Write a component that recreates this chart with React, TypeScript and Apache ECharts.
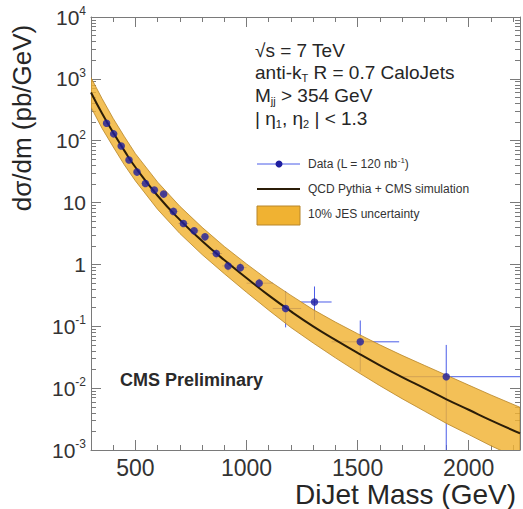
import React, { useEffect, useRef } from 'react';
import * as echarts from 'echarts';

// ---- axis ticks ----
const xMajorTicks = [500, 1000, 1500, 2000];
const xMinorTicks = [300, 400, 500, 600, 700, 800, 900, 1000, 1100, 1200, 1300, 1400, 1500, 1600, 1700, 1800, 1900, 2000, 2100, 2200];
const yMajorTicks = [1e-3, 1e-2, 1e-1, 1, 10, 100, 1000, 10000];

// ---- data points (CMS, L = 120 nb^-1) ----
const dataMass = [370, 402, 436, 471, 507, 545, 585, 627, 671, 716, 764, 813, 864, 917, 972, 1057, 1176, 1306, 1512, 1899];
const dataXsec = [191, 129, 82, 48.7, 31.1, 20.4, 15.9, 13.7, 7.2, 4.6, 3.49, 2.79, 1.5, 0.946, 0.887, 0.498, 0.194, 0.247, 0.0561, 0.0153];
const dataErrLow = [183, 123, 78, 46, 29.3, 19.1, 14.8, 12.6, 6.5, 4.1, 3.05, 2.4, 1.25, 0.77, 0.71, 0.41, 0.096, 0.127, 0.0185, 0.0001];
const dataErrHigh = [199, 135, 86, 51.4, 33, 21.7, 17, 14.8, 7.9, 5.1, 3.95, 3.2, 1.78, 1.14, 1.08, 0.59, 0.37, 0.44, 0.124, 0.05];
const binLow = [354, 386, 419, 453, 489, 526, 565, 606, 649, 693, 740, 788, 838, 890, 944, 1000, 1118, 1246, 1383, 1687];
const binHigh = [386, 419, 453, 489, 526, 565, 606, 649, 693, 740, 788, 838, 890, 944, 1000, 1118, 1246, 1383, 1687, 2231];

// ---- QCD prediction and 10% JES band ----
const theoryMass = [300, 350, 400, 450, 500, 600, 700, 800, 900, 1000, 1100, 1200, 1300, 1400, 1500, 1600, 1700, 1800, 1900, 2000, 2100, 2231];
const theoryXsec = [603, 275, 135, 69.2, 37.2, 12.9, 5.25, 2.4, 1.175, 0.603, 0.316, 0.174, 0.1, 0.0603, 0.0372, 0.0234, 0.0151, 0.01, 0.0066, 0.00447, 0.00302, 0.00186];
const bandHigh = [1047, 479, 229, 117, 61.7, 21.4, 8.71, 3.98, 1.95, 1.02, 0.55, 0.316, 0.186, 0.117, 0.0759, 0.0501, 0.0339, 0.0234, 0.0162, 0.0112, 0.00776, 0.0049];
const bandLow = [347, 158, 79.4, 40.7, 22.4, 7.76, 3.16, 1.445, 0.708, 0.355, 0.182, 0.0955, 0.0537, 0.0309, 0.0182, 0.01096, 0.00676, 0.00427, 0.00269, 0.00178, 0.00117, 0.00071];

const FONT = '"Liberation Sans", Arial, Helvetica, sans-serif';
const BAND = '#F0B232';
const BAND_EDGE = '#B8862A';
const AXIS = '#7a7a7a';
const TXT = '#262626';

const yMinorTicks: number[] = [];
for (let k = -3; k <= 3; k++) for (let d = 2; d <= 9; d++) yMinorTicks.push(d * Math.pow(10, k));

const X_MIN = 300;
const X_MAX = 2231;

function xAxisDef(position: string, major: boolean, labels: boolean) {
  return {
    type: 'value', position, min: X_MIN, max: X_MAX, gridIndex: 0,
    axisLine: { show: major, onZero: false, lineStyle: { color: AXIS, width: 1 } },
    axisTick: { show: true, inside: true, length: major ? 10 : 5, customValues: major ? xMajorTicks : xMinorTicks, lineStyle: { color: AXIS } },
    axisLabel: labels
      ? { show: true, customValues: xMajorTicks, fontSize: 23, color: '#333', fontFamily: FONT, margin: 6, formatter: (v: number) => String(v) }
      : { show: false },
    splitLine: { show: false },
  };
}

function yAxisDef(position: string, major: boolean, labels: boolean) {
  return {
    type: 'log', logBase: 10, position, min: 1e-3, max: 1e4, gridIndex: 0,
    axisLine: { show: major, onZero: false, lineStyle: { color: AXIS, width: 1 } },
    axisTick: { show: true, inside: true, length: major ? 10 : 5, customValues: major ? yMajorTicks : yMinorTicks, lineStyle: { color: AXIS } },
    axisLabel: labels
      ? {
          show: true, customValues: yMajorTicks, margin: 5, color: '#333', fontFamily: FONT, fontSize: 21,
          formatter: (v: number) => {
            const e = Math.round(Math.log10(v));
            if (e === 0) return '1';
            if (e === 1) return '10';
            return `{b|10}{s|${e}}`;
          },
          rich: {
            b: { fontSize: 21, fontFamily: FONT, color: '#333' },
            s: { fontSize: 12, fontFamily: FONT, color: '#333', padding: [0, 0, 12, 0] },
          },
        }
      : { show: false },
    splitLine: { show: false },
  };
}

export default function App() {
  const ref = useRef<HTMLDivElement>(null);
  useEffect(() => {
    const chart = echarts.init(ref.current!, null, { renderer: 'svg' });
    const option: any = {
      animation: false,
      backgroundColor: '#ffffff',
      grid: { left: 91, top: 17, right: 3, bottom: 59, containLabel: false },
      xAxis: [
        xAxisDef('bottom', true, true),
        xAxisDef('bottom', false, false),
        xAxisDef('top', true, false),
        xAxisDef('top', false, false),
      ],
      yAxis: [
        yAxisDef('left', true, true),
        yAxisDef('left', false, false),
        yAxisDef('right', true, false),
        yAxisDef('right', false, false),
      ],
      series: [
        {
          name: 'Data error bars',
          type: 'custom',
          xAxisIndex: 0, yAxisIndex: 0,
          clip: true,
          z: 2,
          data: dataMass.map((m, i) => [m, dataErrLow[i], dataErrHigh[i], binLow[i], binHigh[i], dataXsec[i]]),
          encode: { x: 0, y: [1, 2] },
          renderItem: (params: any, api: any) => {
            const x = api.value(0);
            const top = api.coord([x, api.value(2)]);
            const bot = api.coord([x, api.value(1)]);
            const l = api.coord([api.value(3), api.value(5)]);
            const r = api.coord([api.value(4), api.value(5)]);
            const style = { stroke: '#4a5ce8', lineWidth: 1 };
            return {
              type: 'group',
              children: [
                { type: 'line', shape: { x1: top[0], y1: top[1], x2: bot[0], y2: bot[1] }, style },
                { type: 'line', shape: { x1: l[0], y1: l[1], x2: r[0], y2: r[1] }, style },
              ],
            };
          },
        },
        {
          name: '10% JES uncertainty',
          type: 'custom',
          xAxisIndex: 0, yAxisIndex: 0,
          clip: true,
          z: 3,
          data: theoryMass.map((m, i) => [m, theoryXsec[i]]),
          renderItem: (params: any, api: any) => {
            if (params.dataIndex !== 0) return null;
            const upper = theoryMass.map((m, i) => api.coord([m, bandHigh[i]]));
            const lower = theoryMass.map((m, i) => api.coord([m, bandLow[i]])).reverse();
            return {
              type: 'polygon',
              shape: { points: upper.concat(lower) },
              style: { fill: BAND, stroke: BAND_EDGE, lineWidth: 1, opacity: 0.82 },
            };
          },
        },
        {
          name: 'QCD Pythia + CMS simulation',
          type: 'line',
          xAxisIndex: 0, yAxisIndex: 0,
          z: 4,
          smooth: true,
          symbol: 'none',
          data: theoryMass.map((m, i) => [m, theoryXsec[i]]),
          lineStyle: { color: '#2b1d08', width: 2 },
        },
        {
          name: 'Data',
          type: 'scatter',
          xAxisIndex: 0, yAxisIndex: 0,
          z: 5,
          symbol: 'circle',
          symbolSize: 7.5,
          data: dataMass.map((m, i) => [m, dataXsec[i]]),
          itemStyle: { color: '#1e1ea0' },
        },
      ],
      graphic: [
        { type: 'text', x: 22, y: 118, rotation: Math.PI / 2, style: { text: 'dσ/dm (pb/GeV)', fontFamily: FONT, fontSize: 26, fill: TXT, align: 'center', verticalAlign: 'middle' } },
        { type: 'text', x: 516, y: 494, style: { text: 'DiJet Mass (GeV)', fontFamily: FONT, fontSize: 28, fill: TXT, align: 'right', verticalAlign: 'middle' } },
        { type: 'text', x: 255, y: 50, style: { text: '√s = 7 TeV', fontFamily: FONT, fontSize: 19, fill: TXT, verticalAlign: 'middle' } },
        { type: 'text', x: 255, y: 72.5, style: { text: 'anti-k{sub|T} R = 0.7 CaloJets', fontFamily: FONT, fontSize: 19, fill: TXT, verticalAlign: 'middle', rich: { sub: { fontSize: 11, fontFamily: FONT, fill: TXT, padding: [10, 0, 0, 0] } } } },
        { type: 'text', x: 255, y: 95.5, style: { text: 'M{sub|jj} > 354 GeV', fontFamily: FONT, fontSize: 19, fill: TXT, verticalAlign: 'middle', rich: { sub: { fontSize: 11, fontFamily: FONT, fill: TXT, padding: [10, 0, 0, 0] } } } },
        { type: 'text', x: 255, y: 118.5, style: { text: '| η{sub|1}, η{sub|2} | < 1.3', fontFamily: FONT, fontSize: 19, fill: TXT, verticalAlign: 'middle', rich: { sub: { fontSize: 11, fontFamily: FONT, fill: TXT, padding: [10, 0, 0, 0] } } } },
        // legend
        { type: 'line', shape: { x1: 257, y1: 164, x2: 300, y2: 164 }, style: { stroke: '#4a5ce8', lineWidth: 1 } },
        { type: 'circle', shape: { cx: 279, cy: 164, r: 3.5 }, style: { fill: '#1e1ea0' } },
        { type: 'text', x: 308, y: 164, style: { text: 'Data (L = 120 nb{sup|-1})', fontFamily: FONT, fontSize: 12, fill: '#333', verticalAlign: 'middle', rich: { sup: { fontSize: 8, fontFamily: FONT, fill: '#333', padding: [0, 0, 7, 0] } } } },
        { type: 'line', shape: { x1: 257, y1: 189, x2: 300, y2: 189 }, style: { stroke: '#2b1d08', lineWidth: 2 } },
        { type: 'text', x: 308, y: 189, style: { text: 'QCD Pythia + CMS simulation', fontFamily: FONT, fontSize: 12, fill: '#333', verticalAlign: 'middle' } },
        { type: 'rect', shape: { x: 257, y: 206, width: 43, height: 19 }, style: { fill: BAND, stroke: BAND_EDGE, lineWidth: 1 } },
        { type: 'text', x: 308, y: 214, style: { text: '10% JES uncertainty', fontFamily: FONT, fontSize: 12, fill: '#333', verticalAlign: 'middle' } },
        { type: 'text', x: 120, y: 380, style: { text: 'CMS Preliminary', fontFamily: FONT, fontSize: 18, fontWeight: 'bold', fill: '#2a2a2a', verticalAlign: 'middle' } },
      ],
    };
    chart.setOption(option);
    return () => chart.dispose();
  }, []);
  return <div ref={ref} style={{ position: 'absolute', left: 0, top: 0, width: 523, height: 509 }} />;
}
